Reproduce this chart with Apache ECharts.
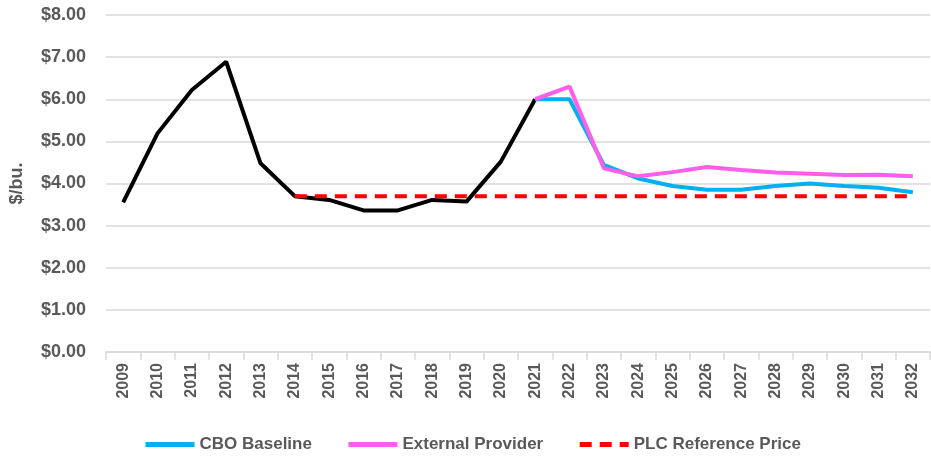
<!DOCTYPE html>
<html>
<head>
<meta charset="utf-8">
<script src="https://cdn.jsdelivr.net/npm/echarts@6/dist/echarts.min.js"></script>
<style>
  html, body { margin: 0; padding: 0; background: #fff; }
  #chart { width: 931px; height: 456px; }
</style>
</head>
<body>
<div id="chart"></div>
<script>
// years on the x axis
var years = ['2009', '2010', '2011', '2012', '2013', '2014', '2015', '2016', '2017', '2018', '2019', '2020',
  '2021', '2022', '2023', '2024', '2025', '2026', '2027', '2028', '2029', '2030', '2031', '2032']

// historical price (black, no legend entry)
var historical = [3.55, 5.19, 6.22, 6.89, 4.48, 3.70, 3.61, 3.36, 3.36, 3.61, 3.57, 4.52,
  6.00, null, null, null, null, null, null, null, null, null, null, null]

var cboBaseline = [null, null, null, null, null, null, null, null, null, null, null, null,
  6.00, 6.00, 4.44, 4.12, 3.94, 3.85, 3.85, 3.94, 4.00, 3.94, 3.90, 3.79]

var externalProvider = [null, null, null, null, null, null, null, null, null, null, null, null,
  6.00, 6.30, 4.36, 4.17, 4.27, 4.39, 4.32, 4.26, 4.23, 4.20, 4.21, 4.17]

var plcReference = [null, null, null, null, null, 3.70, 3.70, 3.70, 3.70, 3.70, 3.70, 3.70,
  3.70, 3.70, 3.70, 3.70, 3.70, 3.70, 3.70, 3.70, 3.70, 3.70, 3.70, 3.70]

var textColor = '#595959'
var gridColor = '#d9d9d9'
var font = 'Liberation Sans'

var chart = echarts.init(document.getElementById('chart'))
chart.setOption({
  animation: false,
  grid: {
    left: 106,
    right: 1,
    top: 15,
    bottom: 104
  },
  legend: {
    data: ['CBO Baseline', 'External Provider', 'PLC Reference Price'],
    left: 138,
    top: 431,
    itemWidth: 49,
    itemHeight: 5,
    itemGap: 34,
    lineStyle: { width: 5 },
    textStyle: {
      color: textColor,
      fontFamily: font,
      fontWeight: 'bold',
      fontSize: 17
    }
  },
  xAxis: {
    type: 'category',
    data: years,
    boundaryGap: true,
    axisLine: { lineStyle: { color: gridColor, width: 1.5 } },
    axisTick: { show: true, length: 8, lineStyle: { color: gridColor, width: 1.5 } },
    axisLabel: {
      rotate: 90,
      margin: 11,
      interval: 0,
      color: textColor,
      fontFamily: font,
      fontWeight: 'bold',
      fontSize: 16
    }
  },
  yAxis: {
    type: 'value',
    min: 0,
    max: 8,
    interval: 1,
    name: '$/bu.',
    nameLocation: 'middle',
    nameGap: 80,
    nameTextStyle: {
      color: textColor,
      fontFamily: font,
      fontWeight: 'bold',
      fontSize: 18
    },
    axisLine: { show: false },
    axisTick: { show: false },
    splitLine: { lineStyle: { color: gridColor, width: 1.5 } },
    axisLabel: {
      margin: 20,
      color: textColor,
      fontFamily: font,
      fontWeight: 'bold',
      fontSize: 18,
      formatter: function (v) { return '$' + v.toFixed(2) }
    }
  },
  series: [
    {
      name: 'Historical',
      type: 'line',
      data: historical,
      symbol: 'none',
      lineStyle: { color: '#000000', width: 4 },
      itemStyle: { color: '#000000' },
      z: 3
    },
    {
      name: 'PLC Reference Price',
      type: 'line',
      data: plcReference,
      symbol: 'none',
      lineStyle: { color: '#ff0000', width: 4, type: [12, 8] },
      itemStyle: { color: '#ff0000' },
      z: 4
    },
    {
      name: 'CBO Baseline',
      type: 'line',
      data: cboBaseline,
      symbol: 'none',
      lineStyle: { color: '#00b0f0', width: 4 },
      itemStyle: { color: '#00b0f0' },
      z: 5
    },
    {
      name: 'External Provider',
      type: 'line',
      data: externalProvider,
      symbol: 'none',
      lineStyle: { color: '#ff5ee8', width: 4 },
      itemStyle: { color: '#ff5ee8' },
      z: 6
    }
  ]
})
</script>
</body>
</html>
